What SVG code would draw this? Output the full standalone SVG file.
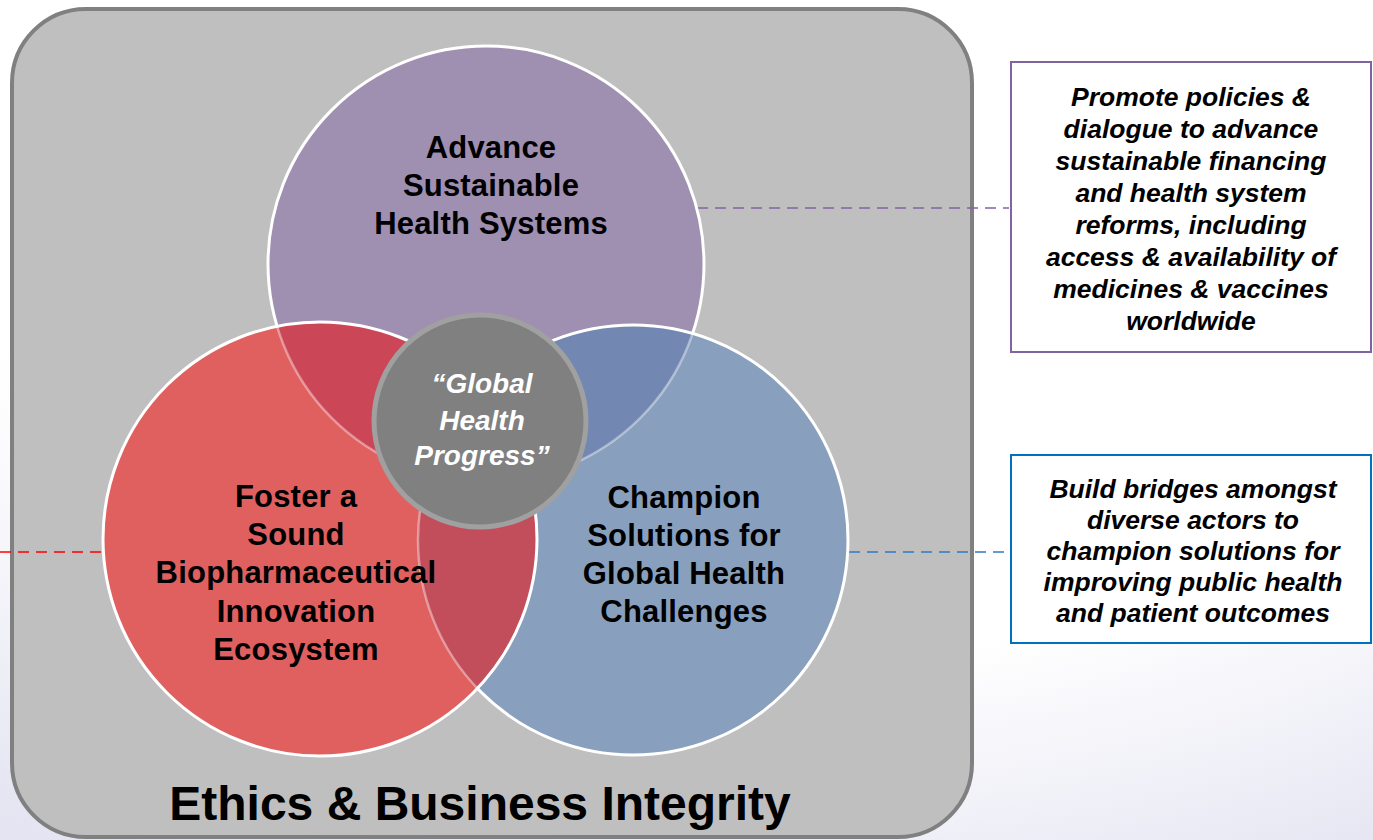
<svg xmlns="http://www.w3.org/2000/svg" width="1373" height="840" viewBox="0 0 1373 840">
<style>
.lbl{font-family:"Liberation Sans",Arial,sans-serif;font-weight:bold;font-size:31px;letter-spacing:0.2px;fill:#000;text-anchor:middle}
.ctr{font-family:"Liberation Sans",Arial,sans-serif;font-weight:bold;font-style:italic;font-size:28px;fill:#fff;text-anchor:middle}
.box{font-family:"Liberation Sans",Arial,sans-serif;font-weight:bold;font-style:italic;font-size:26.5px;fill:#000;text-anchor:middle}
.ttl{font-family:"Liberation Sans",Arial,sans-serif;font-weight:bold;font-size:48px;fill:#000;text-anchor:middle}
.edge{stroke:#fff;stroke-width:3;fill:none}
.faint{stroke:#fff;stroke-opacity:0.4;stroke-width:2.5;fill:none}
.dash{stroke-width:1.6;stroke-dasharray:11 7;fill:none}
</style>
<defs>
<radialGradient id="bg" cx="0.55" cy="0.2" r="0.95">
<stop offset="0.62" stop-color="#ffffff"/>
<stop offset="1" stop-color="#e4e4f2"/>
</radialGradient>
<clipPath id="cR"><circle cx="320" cy="539" r="217"/></clipPath>
<clipPath id="cB"><circle cx="633" cy="540" r="215"/></clipPath>
<clipPath id="cRB"><circle cx="320" cy="539" r="217"/><circle cx="633" cy="540" r="215"/></clipPath>
<mask id="mB"><rect width="1373" height="840" fill="#fff"/><circle cx="320" cy="539" r="217" fill="#000"/></mask>
<mask id="mP"><rect width="1373" height="840" fill="#fff"/><circle cx="320" cy="539" r="217" fill="#000"/><circle cx="633" cy="540" r="215" fill="#000"/></mask>
</defs>
<rect width="1373" height="840" fill="url(#bg)"/>
<g id="frame">
<rect x="12" y="9" width="960" height="828" rx="74" fill="#bfbfbf" stroke="#808080" stroke-width="4"/>
<text class="ttl" x="480" y="820">Ethics &amp; Business Integrity</text>
</g>
<g id="connectors">
<line class="dash" x1="697" y1="208" x2="1009" y2="208" stroke="#8064a2"/>
<line class="dash" x1="849" y1="552" x2="1009" y2="552" stroke="#2e7bc4"/>
<line class="dash" x1="0" y1="552" x2="104" y2="552" stroke="#ff0000"/>
</g>
<g id="circles">
<circle cx="486" cy="264" r="218" fill="#9f8fb0"/>
<circle cx="633" cy="540" r="215" fill="#88a0be"/>
<circle cx="320" cy="539" r="217" fill="#e06060"/>
<circle cx="486" cy="264" r="218" fill="#cb4757" clip-path="url(#cR)"/>
<circle cx="486" cy="264" r="218" fill="#7387b3" clip-path="url(#cB)"/>
<circle cx="633" cy="540" r="215" fill="#c24e5c" clip-path="url(#cR)"/>
<circle class="edge" cx="486" cy="264" r="218" mask="url(#mP)"/>
<circle class="faint" cx="486" cy="264" r="218" clip-path="url(#cRB)"/>
<circle class="edge" cx="633" cy="540" r="215" mask="url(#mB)"/>
<circle class="faint" cx="633" cy="540" r="215" clip-path="url(#cR)"/>
<circle class="edge" cx="320" cy="539" r="217"/>
</g>
<g id="node-health-systems">
<text class="lbl" x="491" y="158">Advance</text>
<text class="lbl" x="491" y="196">Sustainable</text>
<text class="lbl" x="491" y="234">Health Systems</text>
</g>
<g id="node-innovation">
<text class="lbl" x="296" y="507">Foster a</text>
<text class="lbl" x="296" y="545">Sound</text>
<text class="lbl" x="296" y="583">Biopharmaceutical</text>
<text class="lbl" x="296" y="622">Innovation</text>
<text class="lbl" x="296" y="660">Ecosystem</text>
</g>
<g id="node-global-challenges">
<text class="lbl" x="684" y="508">Champion</text>
<text class="lbl" x="684" y="546">Solutions for</text>
<text class="lbl" x="684" y="584">Global Health</text>
<text class="lbl" x="684" y="622">Challenges</text>
</g>
<g id="node-center">
<circle cx="480" cy="421" r="106" fill="#808080" stroke="#a0a0a0" stroke-width="5"/>
<text class="ctr" x="482" y="393">“Global</text>
<text class="ctr" x="482" y="430">Health</text>
<text class="ctr" x="482" y="465">Progress”</text>
</g>
<g id="box-policies">
<rect x="1011" y="62" width="360" height="290" fill="#fff" stroke="#8064a2" stroke-width="2"/>
<text class="box" x="1191" y="106">Promote policies &amp;</text>
<text class="box" x="1191" y="138">dialogue to advance</text>
<text class="box" x="1191" y="170">sustainable financing</text>
<text class="box" x="1191" y="202">and health system</text>
<text class="box" x="1191" y="234">reforms, including</text>
<text class="box" x="1191" y="266">access &amp; availability of</text>
<text class="box" x="1191" y="298">medicines &amp; vaccines</text>
<text class="box" x="1191" y="330">worldwide</text>
</g>
<g id="box-bridges">
<rect x="1011" y="455" width="360" height="188" fill="#fff" stroke="#0070c0" stroke-width="2"/>
<text class="box" x="1193" y="498">Build bridges amongst</text>
<text class="box" x="1193" y="529">diverse actors to</text>
<text class="box" x="1193" y="560">champion solutions for</text>
<text class="box" x="1193" y="591">improving public health</text>
<text class="box" x="1193" y="622">and patient outcomes</text>
</g>
</svg>
